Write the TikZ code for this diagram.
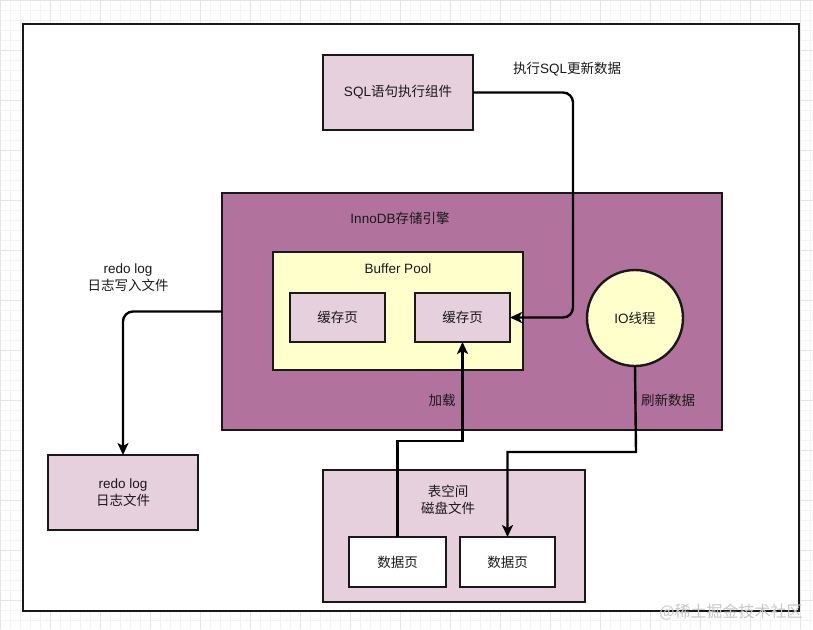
\documentclass[tikz,border=0pt]{standalone}
\usepackage{fontspec}
\setmainfont{Liberation Sans}
\newfontfamily\cjk{Noto Sans CJK SC}
\newcommand{\zh}[1]{{\cjk #1}}
\usetikzlibrary{arrows.meta}
\definecolor{purplefill}{HTML}{B1739D}
\definecolor{pinkfill}{HTML}{E6D0DE}
\definecolor{yellowfill}{HTML}{FFFFCC}
\definecolor{gridminor}{HTML}{F3F3F3}
\definecolor{gridmajor}{HTML}{E4E4E4}
\begin{document}
\begin{tikzpicture}[x=1pt,y=-1pt,
  every node/.style={font=\fontsize{13.5}{17}\selectfont, text=black!90},
  box/.style={draw=black!90, line width=2.4pt, inner sep=0pt, outer sep=0pt, align=center},
  lbl/.style={inner sep=0pt, align=center},
  arr/.style={draw=black, line width=2.4pt, -{Stealth[length=12pt,width=11pt,inset=3pt]}},
  wire/.style={draw=black, line width=2.4pt}]
\useasboundingbox (0,0) rectangle (813,629);
% canvas grid
\foreach \i in {0,10,...,810} {\draw[gridminor, line width=0.6pt] (\i,0) -- (\i,629);}
\foreach \j in {0,10,...,620} {\draw[gridminor, line width=0.6pt] (0,\j) -- (813,\j);}
\foreach \i in {0,50,...,800} {\draw[gridmajor, line width=0.8pt] (\i,0) -- (\i,629);}
\foreach \j in {0,50,...,600} {\draw[gridmajor, line width=0.8pt] (0,\j) -- (813,\j);}
% outer frame
\node[box, fill=white, minimum width=776pt, minimum height=587pt] (frame) at (411,317.5) {};
% boxes
\node[box, fill=pinkfill, minimum width=150pt, minimum height=75pt] (sql) at (398,92.5) {SQL\zh{语句执行组件}};
\node[box, fill=purplefill, minimum width=500pt, minimum height=237pt] (innodb) at (472,311.5) {};
\node[box, fill=yellowfill, minimum width=250pt, minimum height=118pt] (bp) at (398,311) {};
\node[box, fill=pinkfill, minimum width=95pt, minimum height=49pt] (c1) at (337.5,317.5) {\zh{缓存页}};
\node[box, fill=pinkfill, minimum width=95pt, minimum height=49pt] (c2) at (462.5,317.5) {\zh{缓存页}};
\node[box, circle, fill=yellowfill, minimum size=96pt] (io) at (635,318) {IO\zh{线程}};
\node[box, fill=pinkfill, minimum width=150pt, minimum height=75pt] (redo) at (123,492.5) {redo log\\\zh{日志文件}};
\node[box, fill=pinkfill, minimum width=262pt, minimum height=132pt] (ts) at (454,536) {};
\node[box, fill=white, minimum width=97pt, minimum height=50pt] (d1) at (397.5,562) {\zh{数据页}};
\node[box, fill=white, minimum width=95pt, minimum height=50pt] (d2) at (507.5,562) {\zh{数据页}};
% labels
\node[lbl] (lsql) at (567,69) {\zh{执行}SQL\zh{更新数据}};
\node[lbl] (linno) at (400,218) {InnoDB\zh{存储引擎}};
\node[lbl] (lbp) at (398,269) {Buffer Pool};
\node[lbl] (lload) at (442,400) {\zh{加载}};
\node[lbl] (lflush) at (668,400) {\zh{刷新数据}};
\node[lbl] (lredo) at (128,278) {redo log\\\zh{日志写入文件}};
\node[lbl] (lts) at (448,500) {\zh{表空间}\\\zh{磁盘文件}};
% connectors
\draw[arr, rounded corners=10pt] (sql.east) -- (573,92.5) -- (573,317.5) -- (c2.east);
\draw[arr, rounded corners=10pt] (innodb.west) -- (123,311.5) -- (redo.north);
\draw[arr] (d1.north) -- (397.5,441) -- (462.5,441) -- (c2.south);
\draw[arr] (io.south) -- (636,452) -- (507.5,452) -- (d2.north);
% watermark
\node[lbl, text=black!22, font=\cjk\fontsize{16}{18}\selectfont] (wm) at (731,612) {@\zh{稀土掘金技术社区}};
\end{tikzpicture}
\end{document}
